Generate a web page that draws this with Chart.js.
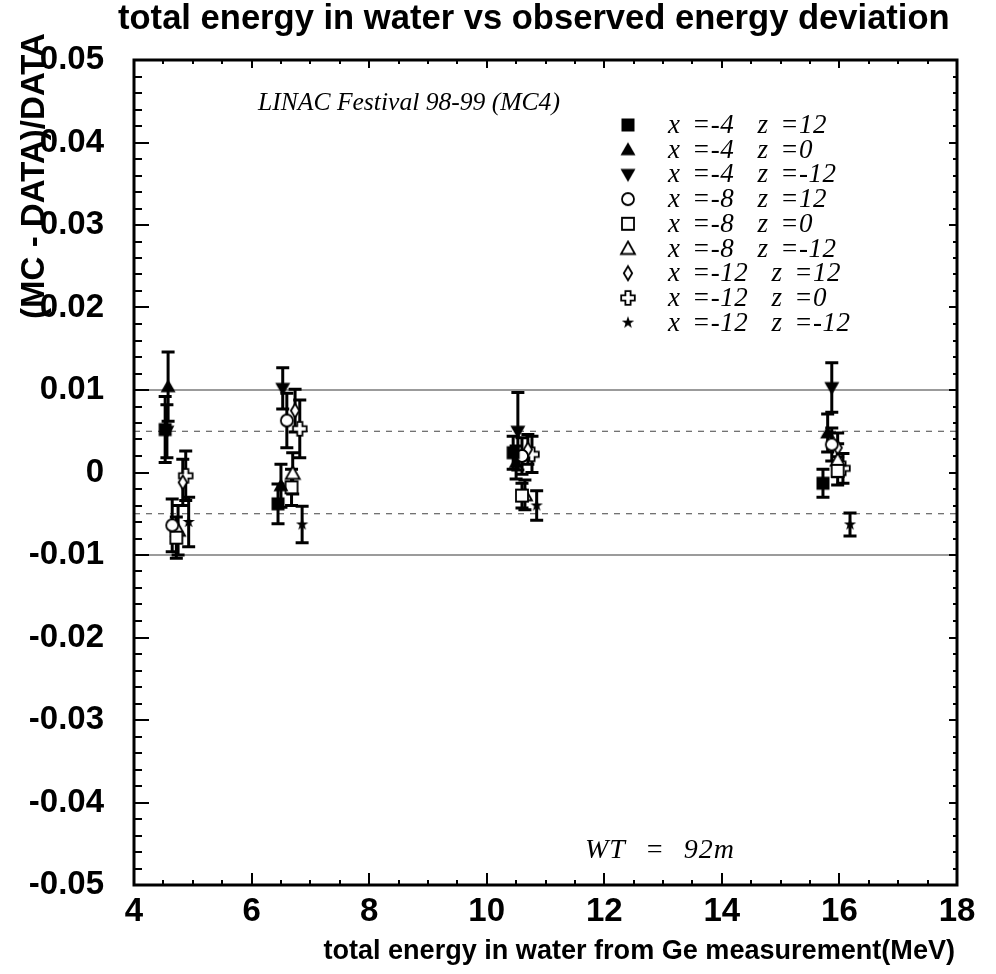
<!DOCTYPE html>
<html>
<head>
<meta charset="utf-8">
<script src="https://cdn.jsdelivr.net/npm/chart.js@4.4.1/dist/chart.umd.min.js"></script>
<style>
  html, body { margin: 0; padding: 0; background: #fff; }
  canvas { display: block; }
</style>
</head>
<body>
<canvas id="chart" width="996" height="974"></canvas>
<script>
// ---- data -------------------------------------------------------------
const seriesLabels = [
  'x =-4  z =12', 'x =-4  z =0', 'x =-4  z =-12',
  'x =-8  z =12', 'x =-8  z =0', 'x =-8  z =-12',
  'x =-12  z =12', 'x =-12  z =0', 'x =-12  z =-12'
];

// total energy in water (MeV), one entry per LINAC run
const energyXm4Z12   = [4.53, 6.45, 10.45, 15.72];
const energyXm4Z0    = [4.58, 6.50, 10.50, 15.80];
const energyXm4Zm12  = [4.56, 6.53, 10.53, 15.87];
const energyXm8Z12   = [4.65, 6.60, 10.60, 15.87];
const energyXm8Z0    = [4.72, 6.68, 10.60, 15.97];
const energyXm8Zm12  = [4.75, 6.70, 10.65, 15.97];
const energyXm12Z12  = [4.83, 6.74, 10.70, 15.97];
const energyXm12Z0   = [4.88, 6.82, 10.77, 16.06];
const energyXm12Zm12 = [4.93, 6.86, 10.85, 16.18];

// (MC - DATA)/DATA
const devXm4Z12   = [0.0052, -0.0038, 0.0024, -0.0013];
const devXm4Z0    = [0.0104, -0.0016, 0.0012, 0.0048];
const devXm4Zm12  = [0.0050, 0.0102, 0.0050, 0.0103];
const devXm8Z12   = [-0.0064, 0.0063, 0.0020, 0.0034];
const devXm8Z0    = [-0.0079, -0.0018, -0.0028, 0.0002];
const devXm8Zm12  = [-0.0070, -0.0001, -0.0027, 0.0015];
const devXm12Z12  = [-0.0012, 0.0075, 0.0028, 0.0030];
const devXm12Z0   = [-0.0004, 0.0053, 0.0022, 0.0005];
const devXm12Zm12 = [-0.0060, -0.0063, -0.0040, -0.0063];

// statistical errors on the deviation
const errXm4Z12   = [0.0040, 0.0024, 0.0020, 0.0017];
const errXm4Z0    = [0.0042, 0.0026, 0.0020, 0.0023];
const errXm4Zm12  = [0.0032, 0.0025, 0.0047, 0.0030];
const errXm8Z12   = [0.0032, 0.0033, 0.0022, 0.0020];
const errXm8Z0    = [0.0025, 0.0022, 0.0015, 0.0017];
const errXm8Zm12  = [0.0030, 0.0025, 0.0018, 0.0020];
const errXm12Z12  = [0.0028, 0.0026, 0.0018, 0.0018];
const errXm12Z0   = [0.0030, 0.0035, 0.0022, 0.0018];
const errXm12Zm12 = [0.0030, 0.0022, 0.0018, 0.0014];

const xTickValues = [4, 6, 8, 10, 12, 14, 16, 18];
const yTickValues = [-0.05, -0.04, -0.03, -0.02, -0.01, 0, 0.01, 0.02, 0.03, 0.04, 0.05];
const solidLevels = [0.01, -0.01];
const dashedLevels = [0.005, -0.005];

const energies = [energyXm4Z12, energyXm4Z0, energyXm4Zm12, energyXm8Z12, energyXm8Z0,
                  energyXm8Zm12, energyXm12Z12, energyXm12Z0, energyXm12Zm12];
const deviations = [devXm4Z12, devXm4Z0, devXm4Zm12, devXm8Z12, devXm8Z0,
                    devXm8Zm12, devXm12Z12, devXm12Z0, devXm12Zm12];
const errors = [errXm4Z12, errXm4Z0, errXm4Zm12, errXm8Z12, errXm8Z0,
                errXm8Zm12, errXm12Z12, errXm12Z0, errXm12Zm12];
const markerKinds = ['squareFilled', 'triUpFilled', 'triDownFilled', 'circleOpen', 'squareOpen',
                     'triUpOpen', 'diamondOpen', 'crossOpen', 'starFilled'];

// ---- marker glyphs ----------------------------------------------------
function makeMarker(kind) {
  const s = 18, m = s / 2;
  const c = document.createElement('canvas');
  c.width = s; c.height = s;
  const g = c.getContext('2d');
  g.fillStyle = '#000';
  g.strokeStyle = '#000';
  g.lineWidth = 1.8;
  g.lineJoin = 'miter';
  const poly = (pts, open) => {
    g.beginPath();
    pts.forEach((p, i) => i ? g.lineTo(m + p[0], m + p[1]) : g.moveTo(m + p[0], m + p[1]));
    g.closePath();
    if (open) { g.fillStyle = '#fff'; g.fill(); g.stroke(); } else { g.fill(); }
  };
  switch (kind) {
    case 'squareFilled': g.fillRect(m - 6.5, m - 6.5, 13, 13); break;
    case 'triUpFilled': poly([[0, -7.5], [7.5, 5.5], [-7.5, 5.5]], false); break;
    case 'triDownFilled': poly([[0, 7.5], [7.5, -5.5], [-7.5, -5.5]], false); break;
    case 'circleOpen':
      g.beginPath(); g.arc(m, m, 6, 0, Math.PI * 2);
      g.fillStyle = '#fff'; g.fill(); g.stroke(); break;
    case 'squareOpen': poly([[-6, -6], [6, -6], [6, 6], [-6, 6]], true); break;
    case 'triUpOpen': poly([[0, -7], [7, 5.5], [-7, 5.5]], true); break;
    case 'diamondOpen': poly([[0, -7], [4.2, 0], [0, 7], [-4.2, 0]], true); break;
    case 'crossOpen': {
      const a = 2.6, b = 6.8;
      poly([[-a, -b], [a, -b], [a, -a], [b, -a], [b, a], [a, a], [a, b], [-a, b],
            [-a, a], [-b, a], [-b, -a], [-a, -a]], true);
      break;
    }
    case 'starFilled': {
      const pts = [];
      for (let k = 0; k < 10; k++) {
        const r = k % 2 ? 2.6 : 6.5;
        const ang = -Math.PI / 2 + k * Math.PI / 5;
        pts.push([r * Math.cos(ang), r * Math.sin(ang)]);
      }
      poly(pts, false);
      break;
    }
  }
  return c;
}
const markers = markerKinds.map(makeMarker);

// ---- text helpers -----------------------------------------------------
function sizeForWidth(g, text, style, family, target) {
  g.font = `${style} 100px ${family}`;
  return 100 * target / g.measureText(text).width;
}
// widen only the blanks so that a line of text spans the wanted width
function wordSpacingForWidth(g, text, target) {
  g.wordSpacing = '0px';
  const w = g.measureText(text).width;
  const blanks = (text.match(/ /g) || []).length;
  return blanks ? Math.max(0, (target - w) / blanks) : 0;
}

const SANS = '"Liberation Sans", Arial, sans-serif';
const SERIF = '"Liberation Serif", "Times New Roman", serif';

// ---- decorations: reference lines, error bars, frame, ticks, texts ----
const decor = {
  id: 'decor',
  beforeDatasetsDraw(chart) {
    const g = chart.ctx, xs = chart.scales.x, ys = chart.scales.y, a = chart.chartArea;
    g.save();
    // reference levels
    g.lineWidth = 1.3;
    g.strokeStyle = '#7a7a7a';
    solidLevels.forEach(v => {
      const y = ys.getPixelForValue(v);
      g.beginPath(); g.moveTo(a.left, y); g.lineTo(a.right, y); g.stroke();
    });
    g.strokeStyle = '#444';
    g.lineWidth = 1;
    g.setLineDash([6, 6]);
    dashedLevels.forEach(v => {
      const y = ys.getPixelForValue(v);
      g.beginPath(); g.moveTo(a.left, y); g.lineTo(a.right, y); g.stroke();
    });
    g.setLineDash([]);
    // error bars
    g.strokeStyle = '#000';
    g.lineWidth = 3;
    g.lineCap = 'butt';
    chart.data.datasets.forEach(ds => {
      ds.data.forEach((p, j) => {
        const e = ds.errors[j];
        const x = xs.getPixelForValue(p.x);
        const y1 = ys.getPixelForValue(p.y + e);
        const y2 = ys.getPixelForValue(p.y - e);
        g.beginPath();
        g.moveTo(x, y1); g.lineTo(x, y2);
        g.moveTo(x - 6.5, y1); g.lineTo(x + 6.5, y1);
        g.moveTo(x - 6.5, y2); g.lineTo(x + 6.5, y2);
        g.stroke();
      });
    });
    g.restore();
  },
  afterDatasetsDraw(chart) {
    const g = chart.ctx, xs = chart.scales.x, ys = chart.scales.y, a = chart.chartArea;
    g.save();
    g.strokeStyle = '#000';
    // ticks (inward)
    g.lineWidth = 2;
    g.beginPath();
    for (let v = 4; v <= 18.001; v += 0.5) {
      const x = Math.round(xs.getPixelForValue(v));
      const major = Math.abs(v / 2 - Math.round(v / 2)) < 1e-6;
      g.moveTo(x, a.bottom); g.lineTo(x, a.bottom - (major ? 12 : 5));
      g.moveTo(x, a.top); g.lineTo(x, a.top + (major ? 8 : 4));
    }
    for (let k = -25; k <= 25; k++) {
      const v = k * 0.002;
      const y = Math.round(ys.getPixelForValue(v));
      const major = k % 5 === 0;
      g.moveTo(a.left, y); g.lineTo(a.left + (major ? 15 : 8), y);
      g.moveTo(a.right, y); g.lineTo(a.right - (major ? 8 : 4), y);
    }
    g.stroke();
    // frame
    g.lineWidth = 3;
    g.strokeRect(a.left, a.top, a.right - a.left, a.bottom - a.top);
    g.restore();
  },
  afterDraw(chart) {
    const g = chart.ctx;
    g.save();
    g.fillStyle = '#000';
    g.textAlign = 'left';
    g.textBaseline = 'alphabetic';

    // chart title
    const title = 'total energy in water vs observed energy deviation';
    let fs = sizeForWidth(g, title, 'bold', SANS, 832);
    g.font = `bold ${fs}px ${SANS}`;
    g.fillText(title, 118, 29);

    // x axis title
    const xTitle = 'total energy in water from Ge measurement(MeV)';
    fs = sizeForWidth(g, xTitle, 'bold', SANS, 632);
    g.font = `bold ${fs}px ${SANS}`;
    g.textAlign = 'right';
    g.fillText(xTitle, 955, 959);

    // y axis title
    const yTitle = '(MC - DATA)/DATA';
    fs = sizeForWidth(g, yTitle, 'bold', SANS, 286);
    g.font = `bold ${fs}px ${SANS}`;
    g.save();
    g.translate(44, 176);
    g.rotate(-Math.PI / 2);
    g.textAlign = 'center';
    g.fillText(yTitle, 0, 0);
    g.restore();

    // annotations
    g.textAlign = 'left';
    const run = 'LINAC Festival 98-99 (MC4)';
    fs = sizeForWidth(g, run, 'italic', SERIF, 302);
    g.font = `italic ${fs}px ${SERIF}`;
    g.fillText(run, 258, 110);

    const wt = 'WT = 92m';
    g.font = `italic 28px ${SERIF}`;
    g.letterSpacing = '1px';
    g.wordSpacing = wordSpacingForWidth(g, wt, 150).toFixed(2) + 'px';
    g.fillText(wt, 585, 858);

    // legend
    g.font = `italic 27px ${SERIF}`;
    g.letterSpacing = '0.5px';
    g.wordSpacing = wordSpacingForWidth(g, seriesLabels[0], 159).toFixed(2) + 'px';
    chart.data.datasets.forEach((ds, i) => {
      const yc = 125 + i * 24.7;
      const img = ds.pointStyle;
      g.drawImage(img, 628 - img.width / 2, yc - img.height / 2);
      g.fillText(ds.label, 668, yc + 8);
    });
    g.letterSpacing = '0px';
    g.wordSpacing = '0px';
    g.restore();
  }
};

// ---- chart ------------------------------------------------------------
const tickFont = { family: SANS, weight: 'bold', size: 33 };

new Chart(document.getElementById('chart'), {
  type: 'scatter',
  data: {
    datasets: seriesLabels.map((label, i) => ({
      label,
      data: energies[i].map((e, j) => ({ x: e, y: deviations[i][j] })),
      errors: errors[i],
      pointStyle: markers[i],
      pointRadius: 7,
      showLine: false
    }))
  },
  options: {
    responsive: false,
    animation: false,
    devicePixelRatio: 1,
    events: [],
    layout: { padding: { left: 0, right: 39, top: 60, bottom: 0 } },
    plugins: {
      legend: { display: false },
      tooltip: { enabled: false },
      title: { display: false }
    },
    scales: {
      x: {
        type: 'linear',
        min: 4, max: 18,
        afterFit(s) { s.height = 89; },
        afterBuildTicks(s) { s.ticks = xTickValues.map(v => ({ value: v })); },
        grid: { display: false, drawTicks: false },
        border: { display: false },
        ticks: { font: tickFont, color: '#000', padding: 7, maxRotation: 0, autoSkip: false }
      },
      y: {
        type: 'linear',
        min: -0.05, max: 0.05,
        afterFit(s) { s.width = 134; },
        afterBuildTicks(s) { s.ticks = yTickValues.map(v => ({ value: v })); },
        grid: { display: false, drawTicks: false },
        border: { display: false },
        ticks: {
          font: tickFont, color: '#000', padding: 30, autoSkip: false,
          callback: v => Math.abs(v) < 1e-9 ? '0' : v.toFixed(2)
        }
      }
    }
  },
  plugins: [decor]
});
</script>
</body>
</html>
